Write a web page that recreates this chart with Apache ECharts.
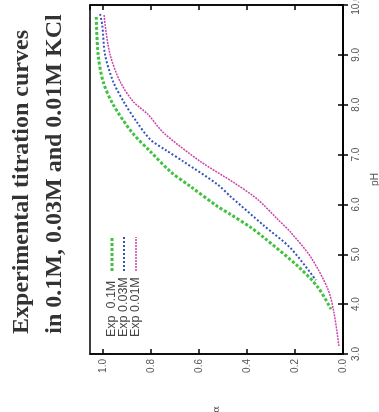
<!DOCTYPE html>
<html>
<head>
<meta charset="utf-8">
<script src="https://cdn.jsdelivr.net/npm/echarts@6/dist/echarts.min.js"></script>
<style>
  html, body { margin: 0; padding: 0; background: #fff; }
  #titrationChart { width: 379px; height: 412px; }
</style>
</head>
<body>
<div id="titrationChart"></div>
<script>
// titration curves, alpha vs pH (figure is drawn turned 90 degrees)
var seriesNames = ['Exp  0.1M', 'Exp 0.03M', 'Exp 0.01M'];
var seriesColors = ['#3fc33f', '#3355bb', '#cc44aa'];

var phTicks = [3, 4, 5, 6, 7, 8, 9, 10];
var alphaTicks = [0, 0.2, 0.4, 0.6, 0.8, 1.0];

// 0.1M KCl
var ph01 = [9.76, 9.0, 8.46, 8.0, 7.44, 7.06, 6.66, 6.36, 5.96, 5.8, 5.54, 5.34, 4.76, 4.34, 3.9];
var alpha01 = [1.029, 1.021, 1.0, 0.958, 0.879, 0.803, 0.72, 0.636, 0.523, 0.469, 0.385, 0.331, 0.188, 0.105, 0.05];

// 0.03M KCl
var ph003 = [9.82, 9.6, 9.0, 8.46, 8.04, 7.64, 7.3, 7.08, 6.86, 6.4, 6.16, 5.58, 5.12, 4.48];
var alpha003 = [1.013, 1.004, 0.992, 0.958, 0.912, 0.858, 0.803, 0.736, 0.665, 0.523, 0.469, 0.331, 0.218, 0.113];

// 0.01M KCl
var ph001 = [9.8, 9.6, 9.0, 8.46, 8.06, 7.8, 7.44, 6.86, 6.44, 6.1, 5.7, 5.44, 4.94, 4.3, 3.84, 3.16];
var alpha001 = [0.996, 0.992, 0.971, 0.929, 0.874, 0.812, 0.749, 0.594, 0.456, 0.356, 0.272, 0.218, 0.134, 0.063, 0.038, 0.017];

function zipPoints(xs, ys) {
  var res = [];
  for (var i = 0; i < xs.length; i++) {
    res.push([xs[i], ys[i]]);
  }
  return res;
}

var lineStyles = [
  { width: 3, type: [3, 2] },
  { width: 2, type: [2, 2] },
  { width: 1.5, type: [2, 1] }
];

var seriesData = [
  zipPoints(alpha01, ph01),
  zipPoints(alpha003, ph003),
  zipPoints(alpha001, ph001)
];

var series = seriesData.map(function (d, i) {
  return {
    name: seriesNames[i],
    type: 'line',
    xAxisIndex: 0,
    yAxisIndex: 0,
    data: d,
    smooth: 0.3,
    showSymbol: false,
    lineStyle: {
      color: seriesColors[i],
      width: lineStyles[i].width,
      type: lineStyles[i].type
    }
  };
});

var labelFont = {
  fontSize: 10,
  color: '#555',
  fontFamily: 'Liberation Sans'
};

function fmt(v) {
  return v.toFixed(1);
}

// alpha axes: bottom with labels, top only ticks
var alphaAxis = function (pos, showLabel) {
  return {
    type: 'value',
    position: pos,
    inverse: true,
    min: 0,
    max: 1.055,
    interval: 0.2,
    name: showLabel ? 'α' : '',
    nameLocation: 'middle',
    nameGap: 52,
    nameRotate: 90,
    nameTextStyle: { fontSize: 10, color: '#555', fontFamily: 'DejaVu Serif' },
    axisLine: { show: true, lineStyle: { color: '#000', width: 1.5 } },
    axisTick: { show: true, inside: true, length: 5, lineStyle: { color: '#000', width: 1.5 } },
    axisLabel: Object.assign({
      show: showLabel,
      rotate: 90,
      margin: 5,
      showMaxLabel: false,
      formatter: fmt
    }, labelFont),
    splitLine: { show: false }
  };
};

var phAxis = function (pos, showLabel) {
  return {
    type: 'value',
    position: pos,
    min: phTicks[0],
    max: phTicks[phTicks.length - 1],
    interval: 1,
    name: showLabel ? 'pH' : '',
    nameLocation: 'middle',
    nameGap: 27,
    nameRotate: 90,
    nameTextStyle: { fontSize: 10, color: '#555', fontFamily: 'Liberation Sans' },
    axisLine: { show: true, lineStyle: { color: '#000', width: 1.5 } },
    axisTick: { show: true, inside: true, length: 5, lineStyle: { color: '#000', width: 1.5 } },
    axisLabel: Object.assign({
      show: showLabel,
      rotate: 90,
      margin: 8,
      formatter: fmt
    }, labelFont),
    splitLine: { show: false }
  };
};

// legend drawn turned, like the rest of the figure
var legendGraphics = [];
var legendX = [112, 124, 136];
for (var i = 0; i < seriesNames.length; i++) {
  legendGraphics.push({
    type: 'text',
    x: legendX[i],
    y: 337,
    rotation: Math.PI / 2,
    style: {
      text: seriesNames[i],
      fontSize: 12.5,
      fontFamily: 'Liberation Sans',
      fill: '#444',
      align: 'left',
      verticalAlign: 'middle'
    }
  });
  legendGraphics.push({
    type: 'line',
    shape: { x1: legendX[i], y1: 271, x2: legendX[i], y2: 237 },
    style: {
      stroke: seriesColors[i],
      lineWidth: lineStyles[i].width,
      lineDash: lineStyles[i].type
    }
  });
}

var titleGraphics = [
  {
    type: 'text',
    x: 22,
    y: 182,
    rotation: Math.PI / 2,
    style: {
      text: 'Experimental titration curves',
      font: 'bold 24px "Liberation Serif"',
      fill: '#333',
      align: 'center',
      verticalAlign: 'middle'
    }
  },
  {
    type: 'text',
    x: 55,
    y: 174,
    rotation: Math.PI / 2,
    style: {
      text: 'in 0.1M, 0.03M and 0.01M KCl',
      font: 'bold 24px "Liberation Serif"',
      fill: '#333',
      align: 'center',
      verticalAlign: 'middle'
    }
  }
];

var titrationOption = {
  animation: false,
  backgroundColor: '#fff',
  grid: {
    left: 90,
    right: 36,
    top: 5,
    bottom: 58,
    outerBoundsMode: 'none',
    show: true,
    borderColor: '#000',
    borderWidth: 1.5
  },
  xAxis: [alphaAxis('bottom', true), alphaAxis('top', false)],
  yAxis: [phAxis('right', true), phAxis('left', false)],
  graphic: titleGraphics.concat(legendGraphics),
  series: series
};

var titrationChart = echarts.init(document.getElementById('titrationChart'));
titrationChart.setOption(titrationOption);
</script>
</body>
</html>
